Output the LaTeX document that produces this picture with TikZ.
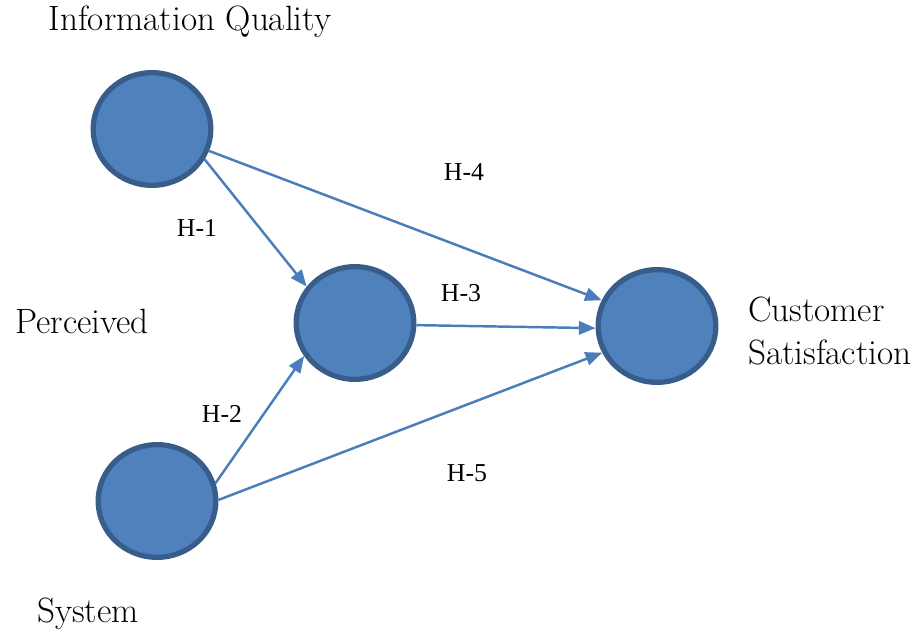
\documentclass[tikz,border=0pt]{standalone}
\usepackage{fontspec}
\usepackage{tikz}
\usetikzlibrary{shapes,arrows.meta,positioning}
\newfontfamily\hfont{Liberation Serif}
\definecolor{cfill}{HTML}{4F81BD}
\definecolor{cline}{HTML}{385D8A}
\definecolor{carrow}{HTML}{4A7EBB}

\begin{document}
\begin{tikzpicture}[x=0.03cm, y=-0.03cm,
    construct/.style={ellipse, draw=cline, fill=cfill, line width=4.5pt, inner sep=0pt,
                      minimum width=3.53cm, minimum height=3.38cm},
    path/.style={draw=carrow, line width=2.1pt, -{Triangle[length=0.5cm, width=0.4cm]}},
    biglabel/.style={font=\fontsize{30}{36}\selectfont},
    hyp/.style={font=\hfont\fontsize{22}{26}\selectfont}]
    \useasboundingbox (0,0) rectangle (917,642);

    % Constructs
    \node[construct] (iq) at (152,129) {};
    \node[construct] (ps) at (355,323) {};
    \node[construct] (sys) at (157,501) {};
    \node[construct] (cs) at (657,326) {};

    % Labels
    \node[biglabel] (iqlabel) at (190,22) {Information Quality};
    \node[biglabel] (pslabel) at (82,321) {Perceived};
    \node[biglabel] (syslabel) at (88,614) {System};
    \node[biglabel, align=left, anchor=west] (cslabel) at (744,331) {Customer\\Satisfaction};

    % Arrows
    \draw[path] (iq.-21) -- (cs.155);
    \draw[path] (iq.-30) -- (ps.143);
    \draw[path] (ps.-2) -- (cs.182);
    \draw[path] (sys.17) -- (ps.-147);
    \draw[path] (sys.1) -- (cs.206);

    % Hypotheses
    \node[hyp] (h1) at (197,228) {H-1};
    \node[hyp] (h2) at (222,414) {H-2};
    \node[hyp] (h3) at (461,293) {H-3};
    \node[hyp] (h4) at (464,172) {H-4};
    \node[hyp] (h5) at (467,473) {H-5};
\end{tikzpicture}
\end{document}
